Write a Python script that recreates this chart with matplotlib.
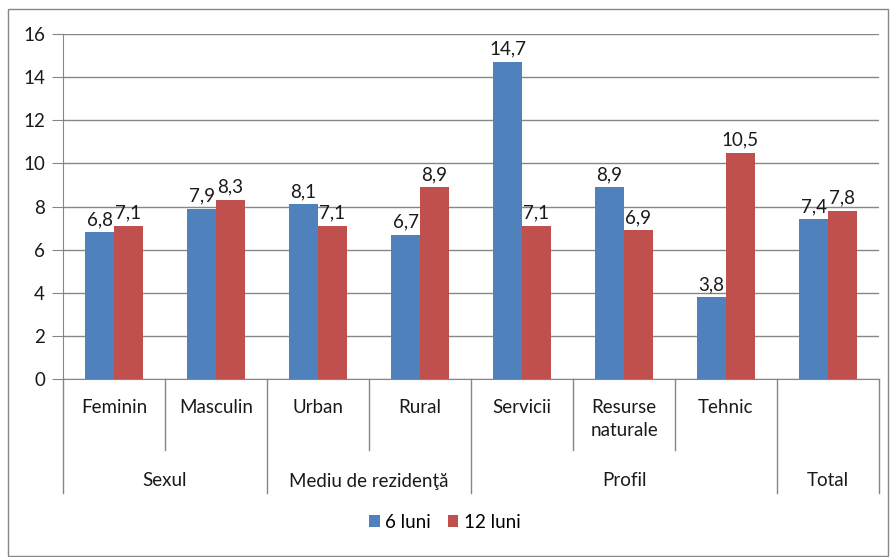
import matplotlib.pyplot as plt
from matplotlib.patches import Rectangle
import numpy as np

categories = ['Feminin', 'Masculin', 'Urban', 'Rural', 'Servicii',
              'Resurse\nnaturale', 'Tehnic', '']
groups = ['Sexul', 'Mediu de rezidenţă', 'Profil', 'Total']
group_sizes = [2, 2, 3, 1]
luni6 = [6.8, 7.9, 8.1, 6.7, 14.7, 8.9, 3.8, 7.4]
luni12 = [7.1, 8.3, 7.1, 8.9, 7.1, 6.9, 10.5, 7.8]
series_names = ['6 luni', '12 luni']
yticks = [0, 2, 4, 6, 8, 10, 12, 14, 16]

blue = '#4F81BD'
red = '#C0504D'
grey = '#868686'

plt.rcParams['font.family'] = ['Lato', 'DejaVu Sans']
fs = 13.5

fig = plt.figure(figsize=(8.92, 5.57), dpi=100)
ax = fig.add_axes([63/892, 1-379/557, 816/892, 345/557])

x = np.arange(len(categories))
w = 0.284
b1 = ax.bar(x - w/2, luni6, w, color=blue, label=series_names[0], zorder=3)
b2 = ax.bar(x + w/2, luni12, w, color=red, label=series_names[1], zorder=3)

def fmt(v):
    return ('%.1f' % v).replace('.', ',')

for bars, vals in ((b1, luni6), (b2, luni12)):
    for r, v in zip(bars, vals):
        ax.annotate(fmt(v), (r.get_x() + r.get_width()/2, v),
                    xytext=(0, 3), textcoords='offset points',
                    ha='center', va='bottom', fontsize=fs, color='#1a1a1a')

ax.set_xlim(-0.5, len(categories) - 0.5)
ax.set_ylim(0, 16)
ax.set_yticks(yticks)
ax.set_yticklabels([str(t) for t in yticks], fontsize=fs, color='#1a1a1a')
ax.tick_params(axis='y', length=8, color=grey, pad=5)
ax.set_xticks([])
ax.grid(axis='y', color=grey, linewidth=1, zorder=0)
for s in ('top', 'right'):
    ax.spines[s].set_visible(False)
for s in ('left', 'bottom'):
    ax.spines[s].set_color(grey)

# multi-level category axis
px = 1/345
trans = ax.get_xaxis_transform()
major = [-0.5]
pos = -0.5
for n in group_sizes:
    pos += n
    major.append(pos)
for xs in major:
    ax.plot([xs, xs], [0, -114*px], color=grey, lw=1, transform=trans, clip_on=False)
for i in range(len(categories) - 1):
    xs = i + 0.5
    if xs not in major:
        ax.plot([xs, xs], [0, -71*px], color=grey, lw=1, transform=trans, clip_on=False)
for i, c in enumerate(categories):
    ax.text(i, -20*px, c, transform=trans, ha='center', va='top',
            fontsize=fs, color='#1a1a1a', linespacing=1.4)
start = -0.5
for g, n in zip(groups, group_sizes):
    ax.text(start + n/2, -102*px, g, transform=trans, ha='center', va='center',
            fontsize=fs, color='#1a1a1a')
    start += n

fig.legend(handles=[b1, b2], labels=series_names, loc='center',
           bbox_to_anchor=(445/892, 1-522/557), ncol=2, frameon=False,
           fontsize=fs, handlelength=0.55, handleheight=0.55,
           handletextpad=0.3, columnspacing=0.9)

fig.patches.append(Rectangle((8/892, 1/557), 880/892, 547/557, transform=fig.transFigure,
                             fill=False, edgecolor=grey, lw=1))

fig.savefig('out.png', dpi=100)
